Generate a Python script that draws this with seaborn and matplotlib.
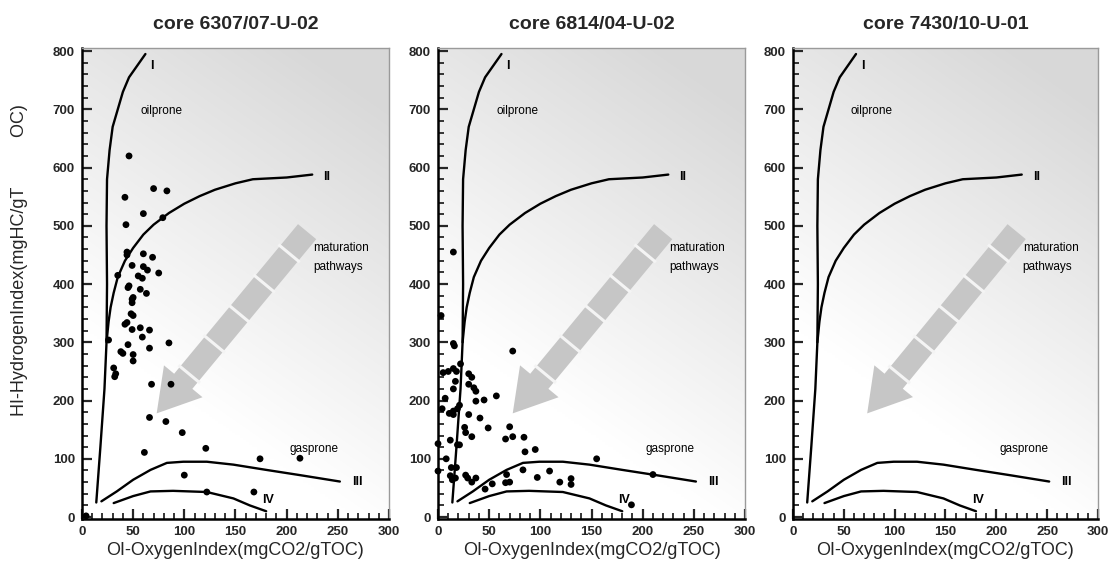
import numpy as np
import pandas as pd
import matplotlib
matplotlib.use("Agg")
import matplotlib.pyplot as plt
import seaborn as sns
from matplotlib.ticker import MultipleLocator

sns.set_theme(style="ticks")
plt.rcParams["font.family"] = ["Liberation Sans", "DejaVu Sans"]
plt.rcParams["lines.scale_dashes"] = False

# ---- core titles ----
cores = ["core 6307/07-U-02", "core 6814/04-U-02", "core 7430/10-U-01"]

# ---- Rock-Eval samples: OI (mgCO2/gTOC) and HI (mgHC/gTOC) ----
oi_6307 = [46, 70, 83, 42, 60, 43, 79, 44, 44, 60, 69, 35, 49, 60, 64, 75, 55, 59,
           45, 46, 57, 63, 50, 49, 49, 48, 50, 44, 42, 49, 57, 66, 59, 45, 85, 26,
           38, 40, 66, 50, 50, 31, 33, 32, 68, 87, 66, 82, 98, 61, 121, 100, 174,
           213, 168, 122, 4]
hi_6307 = [620, 564, 560, 549, 521, 502, 514, 455, 450, 452, 446, 415, 432, 430, 424,
           419, 414, 410, 394, 397, 391, 384, 377, 374, 368, 349, 346, 334, 331, 322,
           325, 321, 309, 296, 299, 304, 284, 281, 290, 279, 268, 256, 246, 241, 228,
           228, 171, 164, 145, 111, 118, 72, 100, 101, 43, 43, 2]

oi_6814 = [15, 3, 15, 16, 73, 22, 15, 18, 10, 5, 30, 33, 17, 15, 30, 35, 37, 57, 45,
           37, 7, 4, 15, 15, 21, 19, 41, 30, 49, 70, 26, 27, 33, 73, 66, 84, 12, 19,
           21, 0, 95, 85, 8, 13, 18, 83, 97, 67, 70, 66, 53, 46, 27, 29, 37, 33, 12,
           14, 17, 109, 119, 130, 130, 155, 210, 189, 0, 11]
hi_6814 = [455, 346, 298, 294, 285, 263, 255, 250, 250, 248, 246, 240, 233, 220, 228,
           222, 216, 208, 201, 199, 204, 186, 182, 176, 192, 186, 170, 176, 153, 155,
           154, 145, 138, 138, 134, 137, 132, 124, 124, 126, 116, 112, 100, 85, 85, 81,
           68, 73, 60, 59, 57, 48, 72, 67, 67, 60, 71, 64, 67, 79, 60, 66, 56, 100, 73,
           21, 79, 178]

oi_7430 = []
hi_7430 = []

samples_oi = [oi_6307, oi_6814, oi_7430]
samples_hi = [hi_6307, hi_6814, hi_7430]

# ---- kerogen type reference curves ----
curve_I_oi = [14, 18, 22, 24, 24.5, 24, 24.5, 27, 30, 35, 40, 46, 54, 62]
curve_I_hi = [25, 120, 220, 300, 400, 500, 580, 630, 670, 700, 730, 755, 775, 795]
curve_II_oi = [24, 26, 28, 31, 35, 42, 50, 60, 70, 85, 100, 115, 130, 150, 167, 200, 225]
curve_II_hi = [300, 335, 360, 385, 412, 440, 462, 485, 502, 522, 538, 551, 562, 573, 580, 583, 588]
curve_III_oi = [19, 34, 50, 67, 83, 99, 122, 148, 180, 213, 252]
curve_III_hi = [27, 44, 64, 81, 93, 95, 95, 90, 81, 72, 61]
curve_IV_oi = [31, 50, 67, 89, 122, 148, 164, 180]
curve_IV_hi = [24, 36, 44, 45, 43, 32, 20, 10]

curves = {
    "I": (curve_I_oi, curve_I_hi),
    "II": (curve_II_oi, curve_II_hi),
    "III": (curve_III_oi, curve_III_hi),
    "IV": (curve_IV_oi, curve_IV_hi),
}

# text annotations (label, OI, HI)
notes = [("I", 67, 775), ("oilprone", 57, 697), ("II", 236, 583),
         ("maturation", 226, 462), ("pathways", 226, 430),
         ("gasprone", 203, 117), ("III", 264, 60), ("IV", 176, 29)]

# maturation arrow: tail and tip (OI, HI)
arrow_tail = (220, 490)
arrow_tip = (73, 178)

fig = plt.figure(figsize=(11.12, 5.67), dpi=100)
lefts = [0.0737, 0.3939, 0.7131]
widths = [0.2761, 0.2761, 0.2743]

# soft grey shading of the panel field
gu, gv = np.meshgrid(np.linspace(0, 1, 200), np.linspace(0, 1, 200))
shade_f = np.clip(1.1 * gv + 0.5 * gu - 0.45, 0, 1)
shade = 1 - 0.15 * shade_f
shade_rgb = np.dstack([shade, shade, shade])

for i, title in enumerate(cores):
    ax = fig.add_axes([lefts[i], 0.085, widths[i], 0.830])
    ax.imshow(shade_rgb, extent=[0, 1, 0, 1], transform=ax.transAxes,
              origin="lower", aspect="auto", zorder=0, interpolation="bilinear")

    for name, (cx, cy) in curves.items():
        dfc = pd.DataFrame({"OI": cx, "HI": cy})
        sns.lineplot(data=dfc, x="OI", y="HI", ax=ax, sort=False, estimator=None,
                     color="black", lw=1.7, zorder=3)

    # arrow
    ax.annotate("", xy=arrow_tip, xytext=arrow_tail,
                arrowprops=dict(arrowstyle="simple,head_length=1.5,head_width=1.8,tail_width=0.85",
                                mutation_scale=20, color="#c6c6c6", lw=0,
                                shrinkA=0, shrinkB=0), zorder=1)
    frac = 0.81
    bx = arrow_tail[0] + (arrow_tip[0] - arrow_tail[0]) * frac
    by = arrow_tail[1] + (arrow_tip[1] - arrow_tail[1]) * frac
    ax.plot([arrow_tail[0], bx], [arrow_tail[1], by], color="#f4f4f4", lw=20,
            linestyle=(9, (2.2, 26)), solid_capstyle="butt", dash_capstyle="butt",
            zorder=2)

    if samples_oi[i]:
        dfs = pd.DataFrame({"OI": samples_oi[i], "HI": samples_hi[i]})
        sns.scatterplot(data=dfs, x="OI", y="HI", ax=ax, color="black", s=24,
                        edgecolor="none", zorder=4, clip_on=False)

    for txt, tx, ty in notes:
        fw = "bold" if txt in ("I", "II", "III", "IV") else "normal"
        fs = 9 if fw == "bold" else 8.5
        ax.text(tx, ty, txt, fontsize=fs, fontweight=fw, ha="left", va="center",
                color="black", zorder=5)

    ax.set_xlim(0, 300)
    ax.set_ylim(-3, 805)
    ax.xaxis.set_major_locator(MultipleLocator(50))
    ax.xaxis.set_minor_locator(MultipleLocator(10))
    ax.yaxis.set_major_locator(MultipleLocator(100))
    ax.yaxis.set_minor_locator(MultipleLocator(20))
    ax.tick_params(which="major", direction="in", length=7, width=1.6,
                   labelsize=9.5, pad=5, top=False, right=False)
    ax.tick_params(which="minor", direction="in", length=4, width=1.3,
                   top=False, right=False)
    for lab in ax.get_xticklabels() + ax.get_yticklabels():
        lab.set_fontweight("bold")

    for side in ("left", "bottom"):
        ax.spines[side].set_color("black")
        ax.spines[side].set_linewidth(1.8)
    for side in ("top", "right"):
        ax.spines[side].set_color("#9a9a9a")
        ax.spines[side].set_linewidth(1.0)

    ax.set_title(title, fontsize=14, fontweight="bold", pad=14)
    ax.set_xlabel("OI-OxygenIndex(mgCO2/gTOC)", fontsize=13, labelpad=3)
    if i == 0:
        ax.set_ylabel("HI-HydrogenIndex(mgHC/gT          OC)", fontsize=13)
        ax.yaxis.set_label_coords(-0.175, 0.55)
    else:
        ax.set_ylabel("")

fig.savefig("out.png", dpi=100)
